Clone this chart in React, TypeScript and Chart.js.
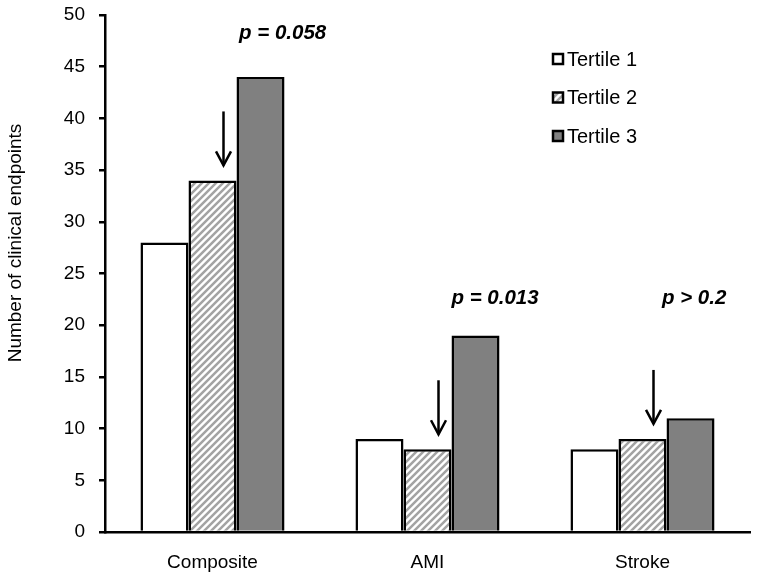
import React, { useEffect, useRef } from "react";
import { Chart, registerables } from "chart.js";

Chart.register(...registerables);

const categories = ["Composite", "AMI", "Stroke"];
const seriesNames = ["Tertile 1", "Tertile 2", "Tertile 3"];
const tertile1 = [28, 9, 8];
const tertile2 = [34, 8, 9];
const tertile3 = [44, 19, 11];
const yTicks = [0, 5, 10, 15, 20, 25, 30, 35, 40, 45, 50];
const pLabels = ["p = 0.058", "p = 0.013", "p > 0.2"];
const pLabelValues = [48.2, 22.6, 22.6];
const yTitle = "Number of clinical endpoints";

const FONT = "'Liberation Sans', Arial, sans-serif";

function makeHatch(): CanvasPattern | string {
  const s = 7;
  const c = document.createElement("canvas");
  c.width = s;
  c.height = s;
  const g = c.getContext("2d");
  if (!g) return "#ccc";
  g.fillStyle = "#ffffff";
  g.fillRect(0, 0, s, s);
  g.strokeStyle = "#a3a3a3";
  g.lineWidth = 2.5;
  g.beginPath();
  g.moveTo(-2, s + 2);
  g.lineTo(s + 2, -2);
  g.moveTo(-2, 2);
  g.lineTo(2, -2);
  g.moveTo(s - 2, s + 2);
  g.lineTo(s + 2, s - 2);
  g.stroke();
  return g.createPattern(c, "repeat") || "#ccc";
}

export default function App() {
  const ref = useRef<HTMLCanvasElement | null>(null);

  useEffect(() => {
    document.body.style.margin = "0";
    const canvas = ref.current;
    if (!canvas) return;
    const hatch = makeHatch();
    const fills = ["#ffffff", hatch, "#808080"];

    const arrowPlugin = {
      id: "arrows",
      afterDatasetsDraw(chart: any) {
        const ctx = chart.ctx;
        const meta = chart.getDatasetMeta(1);
        ctx.save();
        ctx.strokeStyle = "#000";
        ctx.lineWidth = 2.5;
        meta.data.forEach((el: any) => {
          const x = el.x + 11;
          const tip = el.y - 15;
          const top = el.y - 69;
          ctx.beginPath();
          ctx.moveTo(x, top);
          ctx.lineTo(x, tip);
          ctx.stroke();
          ctx.beginPath();
          ctx.moveTo(x - 7.5, tip - 14);
          ctx.lineTo(x, tip);
          ctx.lineTo(x + 7.5, tip - 14);
          ctx.stroke();
        });
        // p-value labels
        const xs = chart.scales.x;
        const ys = chart.scales.y;
        const offs = [0.326, 0.314, 0.24];
        const step = xs.getPixelForValue(1) - xs.getPixelForValue(0);
        ctx.fillStyle = "#000";
        ctx.font = `italic bold 20.5px ${FONT}`;
        ctx.textAlign = "center";
        ctx.textBaseline = "middle";
        pLabels.forEach((t, i) => {
          ctx.fillText(t, xs.getPixelForValue(i) + offs[i] * step, ys.getPixelForValue(pLabelValues[i]));
        });
        // legend
        ctx.font = `20px ${FONT}`;
        ctx.textAlign = "left";
        chart.data.datasets.forEach((ds: any, i: number) => {
          const cy = 59 + i * 38.5;
          ctx.fillStyle = ds.backgroundColor;
          ctx.fillRect(553, cy - 5, 10, 10);
          ctx.strokeStyle = "#000";
          ctx.lineWidth = 2.5;
          ctx.strokeRect(553, cy - 5, 10, 10);
          ctx.fillStyle = "#000";
          ctx.fillText(ds.label, 567, cy + 1);
        });
        // y title
        ctx.save();
        ctx.translate(15.5, 243);
        ctx.rotate(-Math.PI / 2);
        ctx.textAlign = "center";
        ctx.textBaseline = "middle";
        ctx.font = `19px ${FONT}`;
        ctx.fillText(yTitle, 0, 0);
        ctx.restore();
        ctx.restore();
      },
    };

    const chart = new Chart(canvas, {
      type: "bar",
      data: {
        labels: categories,
        datasets: [tertile1, tertile2, tertile3].map((d, i) => ({
          label: seriesNames[i],
          data: d,
          backgroundColor: fills[i] as any,
          borderColor: "#000",
          borderWidth: 2.5,
          categoryPercentage: 0.67,
          barPercentage: 1,
        })),
      },
      options: {
        responsive: false,
        animation: false,
        layout: { padding: { top: 15, right: 7, left: 0, bottom: 0 } },
        plugins: { legend: { display: false }, tooltip: { enabled: false } },
        scales: {
          x: {
            grid: { display: true, drawOnChartArea: false, drawTicks: false },
            border: { display: true, color: "#000", width: 2.5 },
            ticks: { color: "#000", font: { family: FONT, size: 19 }, padding: 19 },
            afterFit(scale: any) {
              scale.height = 48;
              scale.paddingLeft = 0;
              scale.paddingRight = 0;
            },
          },
          y: {
            min: 0,
            max: 50,
            afterBuildTicks(scale: any) {
              scale.ticks = yTicks.map((v) => ({ value: v }));
            },
            grid: {
              display: true,
              drawOnChartArea: false,
              drawTicks: true,
              tickLength: 6,
              color: "#000",
              lineWidth: 2.5,
            },
            border: { display: true, color: "#000", width: 2.5 },
            ticks: { color: "#000", font: { family: FONT, size: 19 }, padding: 14 },
            title: { display: false },
            afterFit(scale: any) {
              scale.width = 105;
              scale.paddingTop = 0;
              scale.paddingBottom = 0;
            },
          },
        },
      },
      plugins: [arrowPlugin],
    });
    return () => chart.destroy();
  }, []);

  return (
    <div style={{ width: 757, height: 580 }}>
      <canvas ref={ref} width={757} height={580} style={{ display: "block" }} />
    </div>
  );
}
